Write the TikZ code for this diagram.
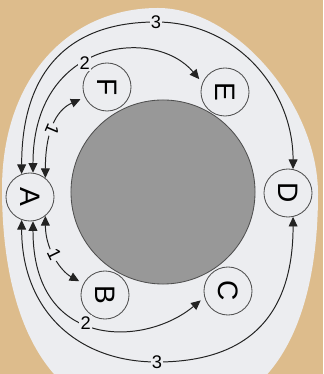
\documentclass[tikz,border=0pt]{standalone}
\usepackage{fontspec}
\setmainfont{Liberation Sans}
\usepackage{graphicx}
\usepackage{tikz}
\usetikzlibrary{arrows.meta,positioning}
\definecolor{bgtan}{RGB}{221,188,140}
\definecolor{paper}{RGB}{236,237,240}
\definecolor{coregray}{RGB}{152,152,152}
\definecolor{inkgray}{RGB}{35,35,35}

\begin{document}
\begin{tikzpicture}[
  x=0.025cm, y=0.025cm,
  stn/.style={circle, draw=inkgray!80, fill=paper, line width=0.6pt, minimum size=1.2cm, inner sep=0pt, font=\fontsize{20}{20}\selectfont},
  route/.style={{Triangle[length=2.4mm,width=2.2mm]}-{Triangle[length=2.4mm,width=2.2mm]}, line width=0.7pt, draw=inkgray},
  num/.style={fill=paper, inner sep=1pt, font=\fontsize{13}{13}\selectfont}
]
  % frame and backdrop
  \useasboundingbox (0,0) rectangle (323,374);
  \fill[bgtan] (0,0) rectangle (323,374);
  \fill[paper] (158,366) .. controls (235,366) and (318,270) .. (318,180)
    .. controls (318,70) and (285,-45) .. (160,-45)
    .. controls (35,-45) and (2,75) .. (2,185)
    .. controls (2,295) and (68,366) .. cycle;

  % central disc
  \draw[fill=coregray, draw=inkgray!80, line width=0.6pt] (163,182) circle (2.3cm);

  % stations (letters turned on their side)
  \node[stn] (A) at (30,177) {\rotatebox{-90}{A}};
  \node[stn] (F) at (107,287) {\rotatebox{-90}{F}};
  \node[stn] (E) at (225,282) {\rotatebox{-90}{E}};
  \node[stn] (D) at (288,181) {\rotatebox{-90}{D}};
  \node[stn] (B) at (105,79) {\rotatebox{-90}{B}};
  \node[stn] (C) at (228,83) {\rotatebox{-90}{C}};

  % turning points of the outer routes
  \coordinate (top3) at (156,352);
  \coordinate (bot3) at (157,12);

  % upper routes
  \draw[route, shorten >=0.12cm] (A.51) .. controls +(0,53) and +(-25,-11) .. node[num, pos=0.4, rotate=-113] {1} (F.205);
  \draw[route, shorten >=0.12cm] (A.83) .. controls +(0,133) and +(-48,57) .. node[num, pos=0.43] {2} (E.158);
  \draw[route] (A.110) .. controls +(0,100) and +(-90,0) .. (top3) .. controls +(80,0) and +(0,80) .. (D.78);
  \node[num] at (top3) {3};

  % lower routes
  \draw[route, shorten >=0.12cm] (A.309) .. controls +(0,-34) and +(-22,12) .. node[num, pos=0.45, rotate=-64] {1} (B.152);
  \draw[route, shorten >=0.12cm] (A.277) .. controls +(0,-129) and +(-60,-50) .. node[num, pos=0.45] {2} (C.195);
  \draw[route] (A.250) .. controls +(0,-90) and +(-80,0) .. (bot3) .. controls +(90,0) and +(0,-100) .. (D.282);
  \node[num] at (bot3) {3};
\end{tikzpicture}
\end{document}
